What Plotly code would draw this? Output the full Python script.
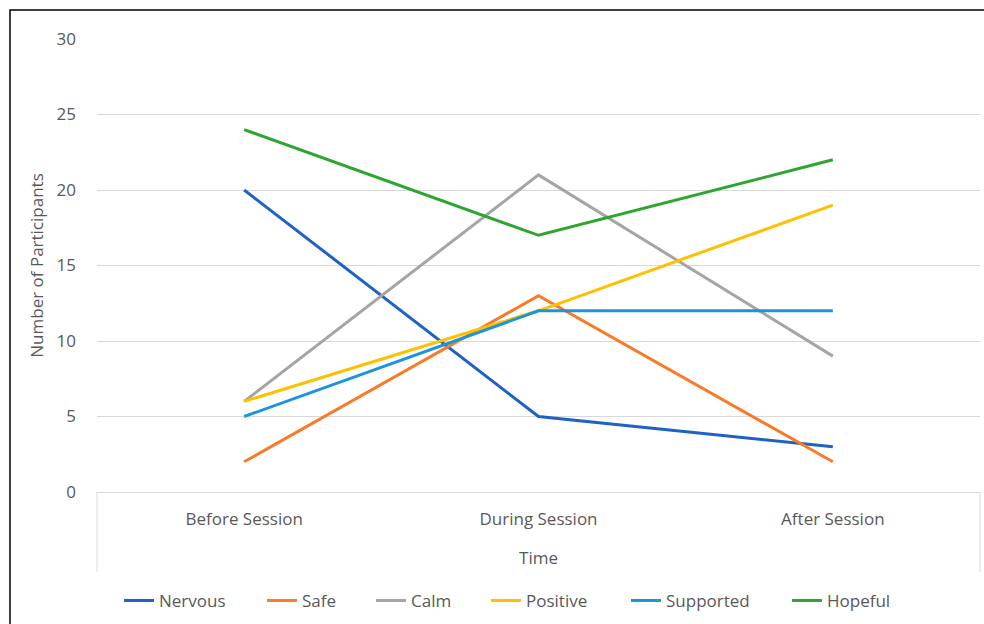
import plotly.graph_objects as go

categories = ["Before Session", "During Session", "After Session"]
nervous = [20, 5, 3]
safe = [2, 13, 2]
calm = [6, 21, 9]
positive = [6, 12, 19]
supported = [5, 12, 12]
hopeful = [24, 17, 22]

series = [
    ("Nervous", nervous, "#1F62C4"),
    ("Safe", safe, "#F97B2A"),
    ("Calm", calm, "#A5A5A5"),
    ("Positive", positive, "#FFC000"),
    ("Supported", supported, "#1B94DA"),
    ("Hopeful", hopeful, "#2EA52E"),
]
# legend entry left edges (px in the 984-wide container)
legend_x = [119, 262, 371, 486, 626, 787]

FONT = "Open Sans"
TXT = "#595959"
FS = 17

fig = go.Figure()
legends = {}
for i, (name, vals, col) in enumerate(series):
    lg = "legend" if i == 0 else f"legend{i + 1}"
    fig.add_trace(go.Scatter(x=categories, y=vals, name=name, mode="lines",
                             line=dict(color=col, width=3), legend=lg))
    legends[lg] = dict(orientation="h", xref="container", x=legend_x[i] / 984,
                       xanchor="left", yref="container", y=0.037, yanchor="middle",
                       font=dict(size=FS, color=TXT), bgcolor="rgba(0,0,0,0)")

fig.update_layout(
    width=984, height=624,
    paper_bgcolor="white", plot_bgcolor="white",
    margin=dict(l=97, r=4, t=39, b=132),
    font=dict(family=FONT, size=FS, color=TXT),
    showlegend=True,
    xaxis=dict(type="category", range=[-0.5, 2.5], showgrid=False,
               showline=True, linecolor="#D9D9D9", linewidth=1,
               ticks="", tickfont=dict(size=FS, color=TXT), ticklabelstandoff=12,
               title=dict(text="Time", font=dict(size=FS, color=TXT), standoff=22)),
    yaxis=dict(range=[0, 30], tickvals=[0, 5, 10, 15, 20, 25, 30],
               showgrid=True, gridcolor="#D9D9D9", gridwidth=1,
               zeroline=False, showline=False, ticks="",
               tickfont=dict(size=FS, color=TXT), ticklabelstandoff=20,
               title=dict(text="Number of Participants", font=dict(size=FS, color=TXT), standoff=8)),
    **legends,
)

# category axis box sides
for xp in [0, 1]:
    fig.add_shape(type="line", xref="paper", yref="paper", x0=xp, x1=xp,
                  y0=0, y1=-80 / 453, line=dict(color="#D9D9D9", width=1))
# outer border
fig.add_shape(type="rect", xref="paper", yref="paper",
              x0=-87 / 883, x1=1 + 10 / 883, y0=-150 / 453, y1=1 + 29 / 453,
              line=dict(color="black", width=1.5), layer="above")

fig.write_html("out.html")
